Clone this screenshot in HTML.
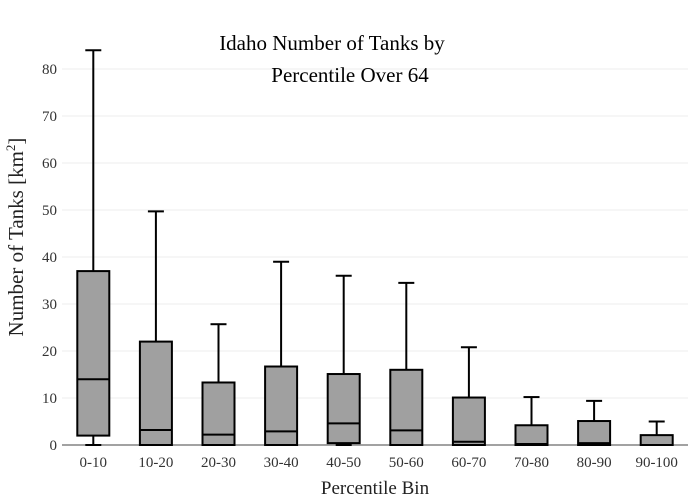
<!DOCTYPE html>
<html><head><meta charset="utf-8"><style>
body{margin:0;background:#fff}
svg{display:block;font-family:"Liberation Serif",serif}
</style></head><body>
<svg id="c" width="700" height="500"></svg>
<script>
const categories=["0-10","10-20","20-30","30-40","40-50","50-60","60-70","70-80","80-90","90-100"];
const mins=[0,0,0,0,0,0,0,0,0,0];
const q1s=[2,0,0,0,0.4,0,0,0,0,0];
const medians=[14,3.2,2.2,2.9,4.6,3.1,0.7,0.2,0.4,0];
const q3s=[37,22,13.3,16.7,15.1,16,10.1,4.2,5.1,2.1];
const maxs=[84,49.7,25.7,39,36,34.5,20.8,10.2,9.4,5];
const yTicks=[0,10,20,30,40,50,60,70,80];
const NS="http://www.w3.org/2000/svg";
const svg=document.getElementById('c');
const x0=62,x1=688,yb=445,yt=69;
const y=v=>yb-(v/80)*(yb-yt);
const step=(x1-x0)/categories.length;
const x=i=>x0+step*(i+0.5);
function el(t,a,p){const e=document.createElementNS(NS,t);for(const k in a)e.setAttribute(k,a[k]);(p||svg).appendChild(e);return e;}
yTicks.forEach(v=>{
 const g=el('line',{x1:x0,x2:x1,y1:y(v),y2:y(v),stroke:v===0?'#444':'#eee','stroke-width':1});
 
 
 const t=el('text',{x:57,y:y(v)+5,'text-anchor':'end','font-size':15,fill:'#333'});
 t.textContent=v;
 
 
});
categories.forEach((c,i)=>{
 const cx=x(i),w=32;
 const g=el('g',{});
 
 
 el('line',{x1:cx,x2:cx,y1:y(q3s[i]),y2:y(maxs[i]),stroke:'#000','stroke-width':2},g);
 el('line',{x1:cx,x2:cx,y1:y(mins[i]),y2:y(q1s[i]),stroke:'#000','stroke-width':2},g);
 el('line',{x1:cx-8,x2:cx+8,y1:y(maxs[i]),y2:y(maxs[i]),stroke:'#000','stroke-width':2},g);
 el('line',{x1:cx-8,x2:cx+8,y1:y(mins[i]),y2:y(mins[i]),stroke:'#000','stroke-width':2},g);
 el('rect',{x:cx-w/2,y:y(q3s[i]),width:w,height:y(q1s[i])-y(q3s[i]),fill:'#a0a0a0',stroke:'#000','stroke-width':2},g);
 el('line',{x1:cx-w/2,x2:cx+w/2,y1:y(medians[i]),y2:y(medians[i]),stroke:'#000','stroke-width':2},g);
 const t=el('text',{x:cx,y:467,'text-anchor':'middle','font-size':15,fill:'#333'});
 t.textContent=c;
 
 
});
</script>
<script>
(function(){
const svg=document.getElementById('c');
svg.insertAdjacentHTML('beforeend',
'<text x="332" y="50" text-anchor="middle" font-size="21" fill="#000">Idaho Number of Tanks by</text>'+
'<text x="350" y="82" text-anchor="middle" font-size="21" fill="#000">Percentile Over 64</text>'+
'<text x="375" y="494" text-anchor="middle" font-size="19" fill="#222">Percentile Bin</text>'+
'<text transform="translate(23,237) rotate(-90)" text-anchor="middle" font-size="21" fill="#222">Number of Tanks  [km<tspan font-size="13" dy="-8">2</tspan><tspan dy="8">]</tspan></text>');
})();
</script>
</body></html>
